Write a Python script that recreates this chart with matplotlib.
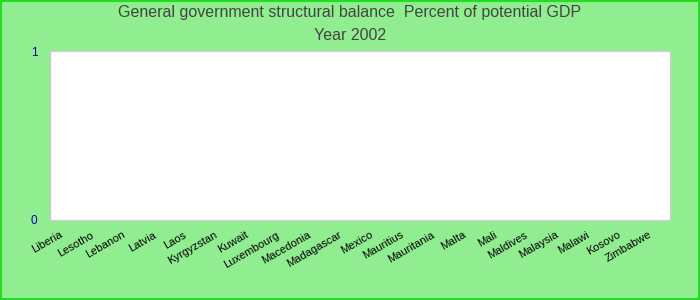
import matplotlib
matplotlib.use("Agg")
import matplotlib.pyplot as plt
import matplotlib.patches as patches
import matplotlib.transforms as mtransforms
import numpy as np

# data: no values reported for 2002
countries = ["Liberia", "Lesotho", "Lebanon", "Latvia", "Laos", "Kyrgyzstan",
             "Kuwait", "Luxembourg", "Macedonia", "Madagascar", "Mexico",
             "Mauritius", "Mauritania", "Malta", "Mali", "Maldives",
             "Malaysia", "Malawi", "Kosovo", "Zimbabwe"]
balance = [np.nan] * len(countries)
y_ticks = [0, 1]

plt.rcParams["font.family"] = ["Liberation Sans", "DejaVu Sans"]

fig = plt.figure(figsize=(7, 3), dpi=100, facecolor="#90EE90")
ax = fig.add_axes([50 / 700, 1 - 220 / 300, 620 / 700, 169 / 300])
ax.set_facecolor("white")

x = np.arange(len(countries))
ax.bar(x, balance, color="#4a7ebb")
ax.set_xlim(-0.5, len(countries) - 0.5)
ax.set_ylim(0, 1)

ax.set_yticks(y_ticks)
ax.set_yticklabels([str(t) for t in y_ticks], color="#0000aa", fontsize=8.5)
ax.set_xticks(x)
ax.set_xticklabels(countries, rotation=30, ha="right", va="top",
                   rotation_mode="anchor", fontsize=8)
ax.tick_params(axis="both", length=0)
ax.tick_params(axis="x", pad=7)
ax.tick_params(axis="y", pad=9)

# nudge the slanted names a little left of their slots
shift = mtransforms.ScaledTranslation(-6 / 100, 0, fig.dpi_scale_trans)
for lbl in ax.get_xticklabels():
    lbl.set_transform(lbl.get_transform() + shift)

for side in ax.spines.values():
    side.set_color("#cccccc")
    side.set_linewidth(1)

fig.text(0.5, 1 - 13 / 300, "General government structural balance  Percent of potential GDP",
         ha="center", va="center", fontsize=11.5, color="#444444")
fig.text(0.5, 1 - 36 / 300, "Year 2002",
         ha="center", va="center", fontsize=11.5, color="#444444")

# green frame around the whole picture
fig.patches.append(patches.Rectangle((0.001, 0.002), 0.997, 0.995, transform=fig.transFigure,
                                     fill=False, edgecolor="#22dd22", linewidth=1.5))

fig.savefig("out.png", dpi=100, facecolor=fig.get_facecolor())
